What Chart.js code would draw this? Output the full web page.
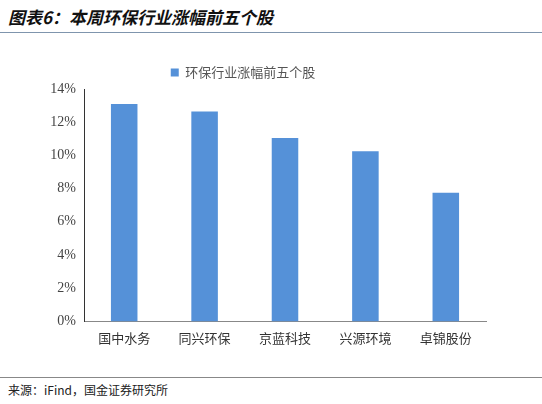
<!DOCTYPE html><html><head><meta charset="utf-8"><script src="https://cdn.jsdelivr.net/npm/chart.js@4"></script>
<style>body{margin:0;width:542px;height:404px;position:relative;background:#fff;font-family:"Noto Sans CJK SC";}
#t{position:absolute;left:8px;top:4px;font-size:17px;font-weight:bold;font-style:italic;color:#111;}
#l1{position:absolute;left:0;right:0;top:32px;border-top:1px solid #7f95ad;}
#l2{position:absolute;left:0;right:0;top:377px;border-top:1px solid #888;}
#s{position:absolute;left:8px;top:381px;font-size:12px;color:#222;}
#c{position:absolute;left:0;top:40px;width:542px;height:320px;}</style></head><body>
<div id="t">图表6：本周环保行业涨幅前五个股</div><div id="l1"></div>
<div id="c"><canvas id="cv"></canvas></div><div id="l2"></div>
<div id="s">来源：iFind，国金证券研究所</div>
<script>
const categories=["国中水务","同兴环保","京蓝科技","兴源环境","卓锦股份"];
const values=[13.1,12.65,11.05,10.25,7.75];
const seriesName="环保行业涨幅前五个股";
new Chart(document.getElementById('cv'),{type:'bar',data:{labels:categories,datasets:[{label:seriesName,data:values,backgroundColor:'#5591d8',categoryPercentage:1,barPercentage:0.33}]},
options:{responsive:true,maintainAspectRatio:false,animation:false,layout:{padding:{left:0,right:56,top:0,bottom:10}},
plugins:{legend:{labels:{boxWidth:8,boxHeight:8,color:'#555',font:{size:13,family:'Noto Sans CJK SC'},padding:26}},tooltip:{enabled:false}},
scales:{x:{grid:{display:false,drawTicks:true,tickLength:5},border:{color:'#888'},ticks:{color:'#333',font:{size:13,family:'Noto Sans CJK SC'},padding:4}},
y:{min:0,max:14,afterFit(s){s.width=84;},grid:{display:false,drawTicks:true,tickLength:5},border:{color:'#333'},ticks:{stepSize:2,color:'#444',font:{size:14,family:'Liberation Serif'},callback:v=>v+'%'}}}}});
</script></body></html>
